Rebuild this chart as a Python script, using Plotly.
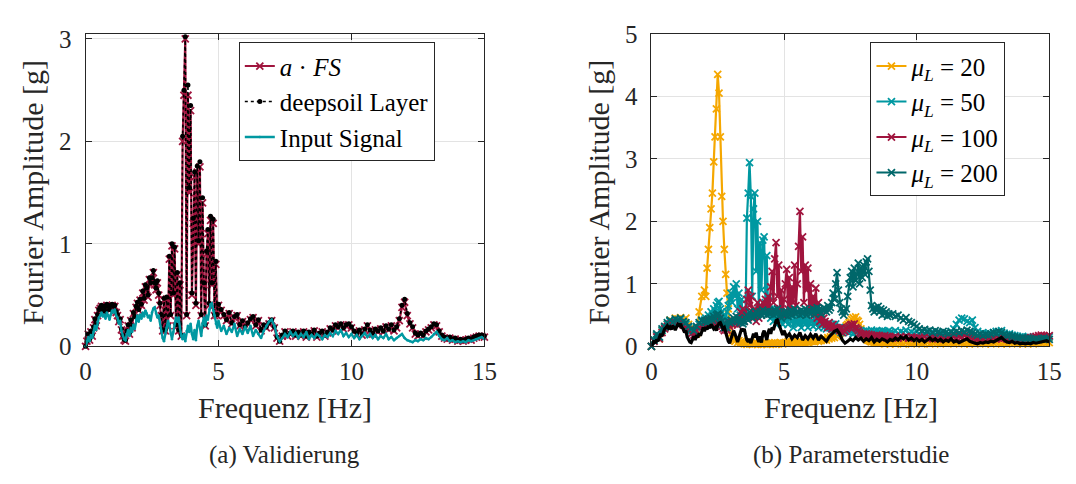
import plotly.graph_objects as go


def grid(*segs):
    out = []
    for a, b, s in segs:
        n = int(round((b - a) / s)) + 1
        out += [round(a + i * s, 2) for i in range(n)]
    return out


# ---------------- (a) Validierung ----------------
freq_a = grid((0.0, 5.0, 0.05), (5.1, 15.0, 0.1))

a_fs = [
    0.00, 0.05, 0.12, 0.06, 0.14, 0.10, 0.18, 0.26, 0.20, 0.30,
    0.35, 0.37, 0.39, 0.34, 0.38, 0.33, 0.40, 0.38, 0.35, 0.39,
    0.40, 0.38, 0.39, 0.33, 0.30, 0.24, 0.26, 0.16, 0.10, 0.06,
    0.05, 0.14, 0.20, 0.12, 0.25, 0.18, 0.32, 0.28, 0.38, 0.42,
    0.35, 0.45, 0.40, 0.52, 0.45, 0.58, 0.55, 0.48, 0.65, 0.60,
    0.65, 0.72, 0.60, 0.55, 0.62, 0.50, 0.40, 0.30, 0.15, 0.45,
    0.15, 0.46, 0.20, 0.85, 0.30, 0.98, 0.50, 0.95, 0.20, 0.70,
    0.15, 0.60, 0.10, 2.00, 2.45, 3.00, 0.30, 2.45, 1.50, 2.30,
    0.50, 1.20, 1.65, 0.40, 1.70, 1.00, 1.75, 0.30, 1.40, 0.60,
    0.20, 0.90, 1.10, 0.40, 1.23, 0.60, 1.20, 0.30, 0.80, 0.30,
    0.40,
    0.35, 0.30, 0.25, 0.32, 0.22, 0.28, 0.30, 0.20, 0.24, 0.18,
    0.22, 0.26, 0.28, 0.20, 0.25, 0.15, 0.20, 0.18, 0.22, 0.25,
    0.18, 0.08, 0.05, 0.10, 0.14, 0.10, 0.12, 0.14, 0.10, 0.13,
    0.10, 0.14, 0.09, 0.13, 0.11, 0.15, 0.09, 0.12, 0.14, 0.10,
    0.13, 0.17, 0.15, 0.20, 0.18, 0.21, 0.17, 0.20, 0.21, 0.18,
    0.14, 0.12, 0.15, 0.11, 0.16, 0.20, 0.15, 0.12, 0.16, 0.14,
    0.17, 0.14, 0.19, 0.16, 0.20, 0.15, 0.18, 0.25, 0.38, 0.43,
    0.30, 0.22, 0.18, 0.12, 0.10, 0.12, 0.10, 0.14, 0.16, 0.18,
    0.21, 0.20, 0.14, 0.10, 0.08, 0.07, 0.08, 0.06, 0.07, 0.05,
    0.06, 0.05, 0.06, 0.07, 0.06, 0.08, 0.09, 0.10, 0.10, 0.09,
]

deepsoil = [
    0.00, 0.05, 0.12, 0.07, 0.15, 0.11, 0.19, 0.27, 0.21, 0.31,
    0.36, 0.38, 0.40, 0.35, 0.39, 0.34, 0.41, 0.39, 0.36, 0.40,
    0.41, 0.39, 0.40, 0.34, 0.31, 0.25, 0.27, 0.17, 0.11, 0.07,
    0.06, 0.15, 0.21, 0.13, 0.26, 0.19, 0.33, 0.29, 0.39, 0.43,
    0.36, 0.46, 0.41, 0.54, 0.47, 0.60, 0.57, 0.50, 0.67, 0.62,
    0.67, 0.74, 0.62, 0.57, 0.64, 0.52, 0.42, 0.31, 0.16, 0.47,
    0.16, 0.48, 0.21, 0.88, 0.31, 1.00, 0.52, 0.97, 0.21, 0.72,
    0.16, 0.62, 0.11, 2.05, 2.50, 3.02, 0.31, 2.55, 1.55, 2.35,
    0.52, 1.25, 1.70, 0.42, 1.76, 1.03, 1.80, 0.31, 1.45, 0.62,
    0.21, 0.93, 1.14, 0.42, 1.27, 0.62, 1.24, 0.31, 0.83, 0.31,
    0.41,
    0.36, 0.31, 0.26, 0.33, 0.23, 0.29, 0.31, 0.21, 0.25, 0.19,
    0.23, 0.27, 0.29, 0.21, 0.26, 0.16, 0.21, 0.19, 0.23, 0.26,
    0.19, 0.09, 0.05, 0.11, 0.15, 0.11, 0.13, 0.15, 0.11, 0.14,
    0.11, 0.15, 0.10, 0.14, 0.12, 0.16, 0.10, 0.13, 0.15, 0.11,
    0.14, 0.18, 0.16, 0.21, 0.19, 0.22, 0.18, 0.21, 0.22, 0.19,
    0.15, 0.13, 0.16, 0.12, 0.17, 0.21, 0.16, 0.13, 0.17, 0.15,
    0.18, 0.15, 0.20, 0.17, 0.21, 0.16, 0.19, 0.27, 0.40, 0.46,
    0.32, 0.23, 0.19, 0.13, 0.11, 0.13, 0.11, 0.15, 0.17, 0.19,
    0.22, 0.21, 0.15, 0.11, 0.09, 0.08, 0.09, 0.07, 0.08, 0.06,
    0.07, 0.06, 0.07, 0.08, 0.07, 0.09, 0.10, 0.11, 0.11, 0.10,
]

input_signal = [
    0.00, 0.04, 0.09, 0.05, 0.11, 0.08, 0.14, 0.20, 0.16, 0.24,
    0.28, 0.30, 0.33, 0.29, 0.31, 0.27, 0.33, 0.30, 0.26, 0.31,
    0.35, 0.33, 0.36, 0.30, 0.28, 0.22, 0.25, 0.15, 0.10, 0.07,
    0.06, 0.12, 0.16, 0.10, 0.18, 0.14, 0.21, 0.17, 0.26, 0.30,
    0.24, 0.31, 0.27, 0.33, 0.29, 0.35, 0.32, 0.28, 0.30, 0.25,
    0.33, 0.37, 0.38, 0.32, 0.28, 0.30, 0.24, 0.15, 0.08, 0.05,
    0.12, 0.18, 0.25, 0.20, 0.12, 0.07, 0.14, 0.22, 0.28, 0.24,
    0.28, 0.18, 0.10, 0.07, 0.12, 0.05, 0.15, 0.20, 0.14, 0.22,
    0.12, 0.07, 0.16, 0.06, 0.20, 0.25, 0.18, 0.10, 0.22, 0.28,
    0.20, 0.30, 0.26, 0.36, 0.41, 0.42, 0.35, 0.30, 0.22, 0.18,
    0.25,
    0.15, 0.20, 0.12, 0.18, 0.14, 0.22, 0.10, 0.17, 0.12, 0.19,
    0.13, 0.20, 0.10, 0.16, 0.12, 0.08, 0.15, 0.20, 0.24, 0.26,
    0.20, 0.10, 0.05, 0.08, 0.12, 0.09, 0.14, 0.10, 0.13, 0.08,
    0.12, 0.09, 0.14, 0.07, 0.11, 0.08, 0.12, 0.10, 0.07, 0.11,
    0.09, 0.13, 0.10, 0.15, 0.12, 0.16, 0.10, 0.13, 0.09, 0.12,
    0.08, 0.11, 0.07, 0.10, 0.13, 0.09, 0.12, 0.08, 0.11, 0.07,
    0.10, 0.08, 0.12, 0.07, 0.09, 0.06, 0.08, 0.10, 0.12, 0.08,
    0.06, 0.05, 0.04, 0.06, 0.05, 0.07, 0.06, 0.08, 0.07, 0.09,
    0.12, 0.14, 0.10, 0.07, 0.06, 0.08, 0.05, 0.06, 0.04, 0.05,
    0.04, 0.05, 0.04, 0.06, 0.05, 0.06, 0.07, 0.08, 0.09, 0.07,
]

# ---------------- (b) Parameterstudie ----------------
freq_b = grid((0.0, 2.0, 0.1), (2.05, 9.0, 0.05), (9.1, 15.0, 0.1))

mu_20 = [
    0.00, 0.10, 0.18, 0.12, 0.25, 0.30, 0.35, 0.42, 0.40, 0.45,
    0.44, 0.46, 0.42, 0.45, 0.35, 0.30, 0.25, 0.20, 0.55, 0.80,
    0.90,
    0.80, 1.25, 1.55, 1.90, 2.20, 2.45, 2.95, 3.35, 3.80, 4.35,
    4.05, 3.35, 2.40, 2.00, 1.55, 1.15, 0.85, 0.60, 0.35, 0.20,
    0.15, 0.10, 0.08, 0.12, 0.06, 0.09, 0.05, 0.08, 0.06, 0.04,
    0.05, 0.03, 0.06, 0.04, 0.07, 0.03, 0.05, 0.04, 0.06, 0.03,
    0.04, 0.05, 0.03, 0.06, 0.04, 0.05, 0.03, 0.04, 0.05, 0.04,
    0.05, 0.04, 0.06, 0.03, 0.05, 0.04, 0.06, 0.05, 0.04, 0.05,
    0.06, 0.05, 0.07, 0.05, 0.06, 0.08, 0.05, 0.07, 0.06, 0.05,
    0.07, 0.06, 0.08, 0.06, 0.07, 0.05, 0.08, 0.06, 0.07, 0.08,
    0.08, 0.10, 0.07, 0.09, 0.11, 0.08, 0.10, 0.09, 0.12, 0.10,
    0.12, 0.10, 0.14, 0.12, 0.15, 0.13, 0.16, 0.14, 0.18, 0.16,
    0.18, 0.20, 0.22, 0.25, 0.28, 0.30, 0.33, 0.35, 0.38, 0.40,
    0.43, 0.46, 0.44, 0.47, 0.42, 0.40, 0.35, 0.28, 0.22, 0.18,
    0.15, 0.12, 0.10, 0.09, 0.08, 0.07, 0.08, 0.06, 0.07, 0.06,
    0.05, 0.06, 0.05, 0.06, 0.05, 0.04, 0.05, 0.06, 0.05, 0.04,
    0.05, 0.04, 0.06, 0.05, 0.04, 0.06, 0.05, 0.04, 0.05, 0.06,
    0.05, 0.04, 0.05, 0.06, 0.04, 0.05, 0.06, 0.05, 0.04, 0.05,
    0.05, 0.06, 0.05, 0.04, 0.05, 0.06, 0.05, 0.04, 0.05, 0.04,
    0.05, 0.04, 0.05, 0.06, 0.05, 0.04, 0.05, 0.04, 0.05, 0.06,
    0.05, 0.04, 0.05, 0.04, 0.05, 0.06, 0.05, 0.04, 0.05, 0.04,
    0.05, 0.04, 0.05, 0.04, 0.05, 0.06, 0.05, 0.06, 0.05, 0.06,
]

mu_50 = [
    0.00, 0.10, 0.18, 0.14, 0.25, 0.30, 0.35, 0.40, 0.36, 0.42,
    0.40, 0.43, 0.38, 0.35, 0.30, 0.25, 0.22, 0.30, 0.35, 0.40,
    0.42,
    0.45, 0.40, 0.50, 0.45, 0.55, 0.50, 0.60, 0.55, 0.65, 0.70,
    0.72, 0.60, 0.55, 0.45, 0.50, 0.40, 0.55, 0.65, 0.75, 0.85,
    0.70, 0.95, 0.80, 1.00, 0.60, 0.85, 0.50, 0.75, 0.40, 0.60,
    0.50, 2.05, 2.45, 2.94, 2.40, 0.80, 2.20, 2.45, 1.20, 2.00,
    0.60, 1.65, 0.90, 1.70, 1.75, 0.70, 1.45, 0.55, 0.80, 0.45,
    0.55, 0.40, 0.60, 0.35, 0.50, 0.45, 0.40, 0.55, 0.35, 0.45,
    0.40, 0.50, 0.35, 0.45, 0.55, 0.40, 0.30, 0.45, 0.38, 0.42,
    0.35, 0.45, 0.30, 0.40, 0.50, 0.35, 0.42, 0.30, 0.38, 0.45,
    0.40, 0.32, 0.45, 0.35, 0.40, 0.30, 0.38, 0.42, 0.35, 0.30,
    0.35, 0.28, 0.32, 0.38, 0.30, 0.35, 0.28, 0.32, 0.36, 0.30,
    0.25, 0.30, 0.22, 0.28, 0.25, 0.30, 0.24, 0.28, 0.22, 0.26,
    0.25, 0.20, 0.28, 0.24, 0.22, 0.26, 0.20, 0.25, 0.22, 0.24,
    0.22, 0.25, 0.20, 0.24, 0.22, 0.26, 0.21, 0.24, 0.22, 0.25,
    0.22, 0.24, 0.20, 0.25, 0.22, 0.24, 0.21, 0.23, 0.25, 0.22,
    0.22, 0.25, 0.20, 0.24, 0.22, 0.26, 0.20, 0.23, 0.21, 0.24,
    0.20, 0.23, 0.21, 0.24, 0.20, 0.22, 0.19, 0.23, 0.21, 0.20,
    0.22, 0.20, 0.24, 0.28, 0.35, 0.42, 0.45, 0.44, 0.40, 0.38,
    0.42, 0.30, 0.24, 0.20, 0.22, 0.19, 0.21, 0.20, 0.22, 0.24,
    0.22, 0.25, 0.21, 0.19, 0.20, 0.18, 0.17, 0.16, 0.15, 0.16,
    0.14, 0.15, 0.14, 0.13, 0.14, 0.13, 0.14, 0.15, 0.16, 0.15,
]

mu_100 = [
    0.00, 0.08, 0.15, 0.12, 0.22, 0.28, 0.32, 0.36, 0.33, 0.38,
    0.36, 0.38, 0.34, 0.30, 0.26, 0.20, 0.18, 0.25, 0.30, 0.34,
    0.36,
    0.38, 0.35, 0.40, 0.36, 0.42, 0.38, 0.40, 0.36, 0.42, 0.45,
    0.42, 0.38, 0.32, 0.28, 0.25, 0.30, 0.26, 0.35, 0.32, 0.38,
    0.35, 0.40, 0.36, 0.38, 0.34, 0.40, 0.55, 0.45, 0.60, 0.40,
    0.55, 0.75, 0.90, 0.65, 0.80, 0.55, 0.45, 0.60, 0.40, 0.70,
    0.45, 0.65, 0.50, 0.70, 0.55, 0.75, 0.60, 0.80, 0.55, 0.95,
    1.20, 0.70, 1.40, 1.66, 0.80, 1.30, 0.60, 0.90, 0.50, 0.75,
    1.00, 1.23, 0.60, 1.10, 0.55, 0.95, 0.70, 1.30, 0.65, 1.00,
    1.60, 2.16, 1.20, 1.75, 0.70, 1.30, 0.90, 1.25, 0.55, 1.00,
    0.60, 0.80, 0.50, 0.93, 0.45, 0.70, 0.40, 0.55, 0.35, 0.45,
    0.40, 0.35, 0.30, 0.38, 0.32, 0.28, 0.35, 0.30, 0.25, 0.30,
    0.28, 0.25, 0.30, 0.22, 0.26, 0.24, 0.28, 0.30, 0.32, 0.34,
    0.35, 0.33, 0.36, 0.30, 0.28, 0.25, 0.22, 0.20, 0.18, 0.20,
    0.18, 0.20, 0.17, 0.19, 0.16, 0.18, 0.15, 0.17, 0.16, 0.18,
    0.15, 0.17, 0.14, 0.16, 0.15, 0.17, 0.14, 0.16, 0.15, 0.14,
    0.14, 0.16, 0.13, 0.15, 0.14, 0.16, 0.13, 0.15, 0.14, 0.13,
    0.14, 0.13, 0.15, 0.12, 0.14, 0.13, 0.15, 0.12, 0.14, 0.13,
    0.12, 0.14, 0.13, 0.15, 0.14, 0.16, 0.15, 0.17, 0.16, 0.15,
    0.14, 0.13, 0.12, 0.13, 0.12, 0.14, 0.13, 0.12, 0.13, 0.12,
    0.13, 0.12, 0.13, 0.12, 0.11, 0.12, 0.11, 0.12, 0.11, 0.12,
    0.12, 0.13, 0.14, 0.15, 0.16, 0.17, 0.18, 0.17, 0.16, 0.17,
]

mu_200 = [
    0.00, 0.10, 0.20, 0.15, 0.28, 0.32, 0.38, 0.42, 0.38, 0.44,
    0.42, 0.45, 0.40, 0.38, 0.32, 0.28, 0.25, 0.32, 0.38, 0.42,
    0.40,
    0.42, 0.38, 0.44, 0.40, 0.45, 0.42, 0.48, 0.44, 0.50, 0.52,
    0.50, 0.45, 0.40, 0.35, 0.30, 0.35, 0.30, 0.40, 0.38, 0.42,
    0.40, 0.45, 0.42, 0.48, 0.40, 0.45, 0.38, 0.42, 0.36, 0.40,
    0.45, 0.50, 0.42, 0.55, 0.48, 0.45, 0.52, 0.48, 0.55, 0.50,
    0.52, 0.55, 0.50, 0.58, 0.52, 0.55, 0.50, 0.56, 0.52, 0.55,
    0.55, 0.50, 0.58, 0.52, 0.60, 0.55, 0.50, 0.45, 0.52, 0.55,
    0.50, 0.55, 0.48, 0.52, 0.58, 0.50, 0.55, 0.60, 0.52, 0.56,
    0.55, 0.50, 0.58, 0.52, 0.55, 0.60, 0.50, 0.55, 0.58, 0.52,
    0.55, 0.60, 0.52, 0.58, 0.62, 0.55, 0.60, 0.52, 0.58, 0.62,
    0.60, 0.55, 0.65, 0.58, 0.62, 0.70, 0.85, 0.75, 1.00, 1.18,
    0.90, 0.70, 0.60, 0.55, 0.50, 0.55, 0.60, 0.80, 1.00, 1.10,
    1.20, 0.95, 1.25, 1.05, 1.15, 1.33, 1.00, 1.25, 1.10, 1.30,
    1.15, 1.35, 1.40, 1.20, 0.90, 0.65, 0.60, 0.55, 0.62, 0.58,
    0.64, 0.55, 0.60, 0.50, 0.58, 0.52, 0.55, 0.48, 0.52, 0.50,
    0.52, 0.48, 0.50, 0.45, 0.42, 0.46, 0.40, 0.38, 0.35, 0.32,
    0.28, 0.25, 0.27, 0.24, 0.26, 0.22, 0.25, 0.23, 0.21, 0.24,
    0.22, 0.20, 0.23, 0.21, 0.24, 0.22, 0.25, 0.23, 0.26, 0.24,
    0.22, 0.20, 0.18, 0.20, 0.17, 0.19, 0.18, 0.20, 0.22, 0.21,
    0.24, 0.22, 0.19, 0.17, 0.18, 0.16, 0.15, 0.14, 0.13, 0.14,
    0.12, 0.13, 0.12, 0.11, 0.12, 0.11, 0.12, 0.13, 0.12, 0.11,
]

x_ticks = [0, 5, 10, 15]
y_ticks_a = [0, 1, 2, 3]
y_ticks_b = [0, 1, 2, 3, 4, 5]

RED = "#A0153E"
TEAL = "#0098A1"
ORANGE = "#F5A700"
DTEAL = "#00676A"
FONT = "Liberation Serif"
INK = "#262626"

W, H = 1076, 484

fig = go.Figure()


def xmark(color):
    return dict(symbol="x-thin", size=7, color=color, line=dict(width=1.8, color=color))


fig.add_trace(go.Scatter(x=freq_a, y=a_fs, mode="lines+markers", name="<i>a</i> · <i>FS</i>",
                         line=dict(color=RED, width=2.2), marker=xmark(RED),
                         xaxis="x", yaxis="y", legend="legend", cliponaxis=False))
fig.add_trace(go.Scatter(x=freq_a, y=deepsoil, mode="lines+markers", name="deepsoil Layer",
                         line=dict(color="black", width=1.6, dash="dot"),
                         marker=dict(symbol="circle", size=5, color="black"),
                         xaxis="x", yaxis="y", legend="legend", cliponaxis=False))
fig.add_trace(go.Scatter(x=freq_a, y=input_signal, mode="lines+markers", name="Input Signal",
                         line=dict(color=TEAL, width=2.4),
                         marker=dict(symbol="circle", size=2.5, color=TEAL),
                         xaxis="x", yaxis="y", legend="legend", cliponaxis=False))

for vals, lab, col in [(mu_20, "20", ORANGE), (mu_50, "50", TEAL),
                       (mu_100, "100", RED), (mu_200, "200", DTEAL)]:
    fig.add_trace(go.Scatter(x=freq_b, y=vals, mode="lines+markers",
                             name="<i>μ</i><sub><i>L</i></sub> = " + lab,
                             line=dict(color=col, width=2.2), marker=xmark(col),
                             xaxis="x2", yaxis="y2", legend="legend2", cliponaxis=False))

fig.add_trace(go.Scatter(x=freq_a, y=input_signal, mode="lines", showlegend=False,
                         line=dict(color="black", width=3.2), xaxis="x2", yaxis="y2",
                         cliponaxis=False))

ax = dict(showline=True, linecolor=INK, linewidth=1, mirror="ticks", ticks="inside",
          ticklen=6, tickcolor=INK, showgrid=True, gridcolor="#e3e3e3", gridwidth=1,
          zeroline=False, tickfont=dict(family=FONT, size=25, color=INK))

ydom = [1 - 353 / H, 1 - 22 / H]
fig.update_layout(
    width=W, height=H, margin=dict(l=0, r=0, t=0, b=0),
    paper_bgcolor="white", plot_bgcolor="white",
    xaxis=dict(ax, domain=[81 / W, 487 / W], range=[0, 15], tickvals=x_ticks, anchor="y",
               ticklabelstandoff=3),
    yaxis=dict(ax, domain=ydom, range=[0, 3.05], tickvals=y_ticks_a, anchor="x",
               ticklabelstandoff=8),
    xaxis2=dict(ax, domain=[657 / W, 1062 / W], range=[0, 15], tickvals=x_ticks, anchor="y2",
                ticklabelstandoff=3),
    yaxis2=dict(ax, domain=ydom, range=[0, 5], tickvals=y_ticks_b, anchor="x2",
                ticklabelstandoff=8),
    legend=dict(x=237 / W, y=1 - 31 / H, xanchor="left", yanchor="top",
                bgcolor="white", bordercolor=INK, borderwidth=1,
                font=dict(family=FONT, size=25, color="black"), tracegroupgap=0),
    legend2=dict(x=880 / W, y=1 - 31 / H, xanchor="left", yanchor="top",
                 bgcolor="white", bordercolor=INK, borderwidth=1,
                 font=dict(family=FONT, size=25, color="black"), tracegroupgap=0),
    showlegend=True,
)


def ann(text, x, y, size, angle=0):
    fig.add_annotation(text=text, x=x / W, y=1 - y / H, xref="paper", yref="paper",
                       showarrow=False, textangle=angle, xanchor="center", yanchor="middle",
                       font=dict(family=FONT, size=size, color=INK))


ann("Fourier Amplitude [g]", 27, 190, 30, -90)
ann("Fourier Amplitude [g]", 603, 190, 30, -90)
ann("Frequenz [Hz]", 284, 418, 30)
ann("Frequenz [Hz]", 860, 418, 30)
ann("(a) Validierung", 284, 468, 25)
ann("(b) Parameterstudie", 860, 468, 25)

fig.write_html("out.html")
